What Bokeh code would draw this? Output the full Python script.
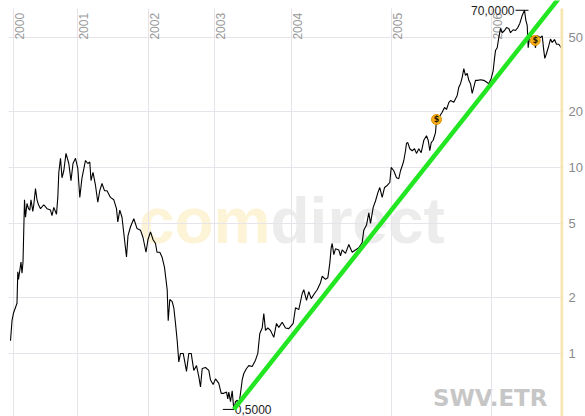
import math
from bokeh.plotting import figure
from bokeh.models import Range1d, FixedTicker, CustomJSTickFormatter
from bokeh.core.properties import value
from bokeh.embed import file_html
from bokeh.resources import INLINE

# ---- data (x = position along the time axis, price in EUR) ----
years = [2000, 2001, 2002, 2003, 2004, 2005, 2006]
year_pos = [5, 69, 140, 206, 283, 383, 483]
y_ticks = [1, 2, 5, 10, 20, 50]

pos = [2.0, 3.5, 5.0, 8.5, 9.3, 10.0, 12.5, 13.5, 14.5, 16.0, 17.0, 18.5, 20.0, 21.3, 22.5, 24.3,
       25.3, 27.0, 28.5, 30.0, 32.0, 35.3, 38.5, 42.0, 43.5, 45.3, 48.0, 49.3, 50.3, 52.0, 53.5,
       55.3, 57.5, 60.3, 62.5, 64.5, 67.0, 69.3, 71.3, 73.5, 77.0, 79.3, 81.3, 82.5, 84.5, 87.0,
       89.3, 91.3, 93.5, 96.0, 98.5, 102.0, 105.3, 108.0, 109.3, 111.3, 113.5, 116.0, 118.0,
       119.5, 122.0, 125.3, 128.5, 132.0, 134.5, 137.5, 139.5, 142.0, 144.5, 147.0, 148.5, 151.3,
       153.5, 156.0, 158.7, 159.7, 161.3, 163.7, 165.3, 167.0, 168.7, 170.3, 172.0, 174.7, 176.3,
       178.0, 180.3, 182.7, 185.3, 188.0, 190.3, 192.0, 193.7, 197.0, 200.3, 202.0, 204.7, 207.0,
       210.3, 212.7, 215.3, 218.0, 219.3, 220.3, 222.0, 223.7, 225.3, 227.0, 228.7, 230.3, 232.0,
       233.7, 235.3, 238.0, 240.3, 243.7, 247.0, 249.3, 251.3, 253.7, 255.3, 257.0, 259.3, 262.0,
       265.3, 268.0, 270.3, 273.7, 277.0, 280.3, 284.7, 287.0, 290.3, 293.7, 295.3, 298.0, 300.3,
       302.7, 306.0, 308.7, 312.0, 313.7, 317.0, 319.3, 321.3, 322.7, 323.7, 325.3, 327.0, 330.3,
       332.0, 333.7, 337.0, 340.3, 343.7, 347.0, 350.3, 353.7, 355.3, 358.0, 360.3, 362.0, 364.7,
       367.0, 369.3, 371.3, 373.7, 376.0, 378.7, 381.3, 382.7, 385.3, 388.0, 390.3, 392.0, 394.0,
       395.3, 397.0, 398.0, 399.3, 401.3, 403.7, 406.0, 408.0, 410.3, 412.7, 415.3, 418.0, 419.7,
       421.3, 422.7, 424.7, 427.0, 428.0, 430.3, 433.7, 436.0, 438.0, 440.3, 442.0, 445.3, 448.7,
       450.3, 452.0, 453.7, 455.3, 457.0, 458.7, 460.3, 462.0, 463.7, 465.3, 467.0, 469.3, 472.0,
       475.3, 478.0, 480.3, 482.7, 484.7, 486.0, 487.0, 488.7, 490.3, 492.0, 493.7, 496.0, 498.0,
       500.3, 502.0, 504.7, 507.0, 509.3, 511.3, 513.7, 516.0, 517.3, 518.7, 519.7, 521.0, 522.7,
       524.7, 527.0, 528.7, 532.0, 533.7, 535.3, 536.3, 538.0, 539.7, 542.0, 543.7, 546.0, 548.0,
       550.3, 552.7]
price = [1.17, 1.50, 1.65, 1.86, 2.75, 2.50, 3.10, 2.70, 3.10, 6.70, 5.40, 6.40, 6.0, 5.90, 6.70, 5.80,
         6.30, 7.70, 6.70, 6.3, 6.00, 6.30, 6.00, 5.90, 5.50, 6.10, 5.60, 6.90, 9.40, 11.2, 8.80,
         9.60, 11.9, 10.5, 8.50, 10.5, 11.2, 9.90, 6.90, 8.80, 10.9, 10.5, 10.7, 8.50, 9.40, 8.00,
         6.50, 7.50, 8.20, 7.50, 7.50, 6.90, 6.70, 6.00, 5.10, 5.90, 5.40, 4.10, 3.30,
         4.30, 4.80, 5.30, 4.70, 4.60, 4.20, 3.50, 4.10, 4.50, 4.10, 3.90, 3.50, 3.50,
         3.30, 2.90, 2.20, 1.50, 1.95, 1.90, 1.76, 1.45, 1.17, 0.90, 1.00, 1.00, 0.90,
         0.80, 1.00, 1.00, 0.81, 0.86, 0.75, 0.66, 0.83, 0.84, 0.81, 0.72, 0.68, 0.73,
         0.69, 0.61, 0.61, 0.62, 0.57, 0.62, 0.55, 0.63, 0.50, 0.55, 0.56, 0.53, 0.61,
         0.72, 0.78, 0.83, 0.86, 0.85, 0.92, 1.00, 1.28, 1.37, 1.64, 1.33, 1.37, 1.33,
         1.22, 1.45, 1.38, 1.47, 1.37, 1.36, 1.45, 1.76, 1.72, 2.10, 2.20, 1.93, 2.15,
         1.97, 2.10, 2.20, 2.40, 2.60, 2.50, 2.55, 3.05, 3.70, 3.90, 3.40, 3.65, 3.60,
         3.35, 3.60, 3.45, 3.85, 3.50, 3.60, 3.70, 3.95, 4.60, 4.90, 5.70, 5.00, 6.10,
         6.60, 7.30, 7.80, 6.90, 7.80, 8.00, 8.30, 10.0, 9.60, 8.80, 8.70, 9.60, 10.3,
         10.9, 12.3, 13.5, 13.6, 12.6, 12.3, 12.6, 11.9, 12.6, 12.0, 14.0, 14.8, 14.0,
         12.3, 13.6, 14.0, 15.4, 17.9, 18.6, 19.8, 21.0, 20.5, 22.3, 22.9, 22.4, 24.4,
         27.0, 28.2, 30.5, 34.0, 31.3, 32.0, 29.4, 28.2, 25.0, 27.0, 29.4, 29.4, 29.6,
         29.4, 28.8, 28.2, 30.1, 33.2, 38.6, 42.5, 44.0, 49.9, 55.9, 53.0, 54.5, 56.5,
         55.9, 53.0, 55.0, 54.5, 56.5, 59.5, 65.6, 70.0, 62.0, 58.0, 44.0, 49.9, 51.0,
         49.9, 44.0, 51.0, 49.9, 51.0, 42.5, 38.6, 41.0, 44.0, 49.0, 47.0, 48.7, 46.0,
         46.0, 44.0]

trend_x = [225.3, 565.0]
trend_y = [0.5, 102.0]

div_x = [428.0, 526.7]
div_y = [18.1, 48.2]

symbol = "SWV.ETR"

X_END = 555
Y_TOP = 79.0      # value at the very top edge of the chart area
Y_GRID_TOP = 71.6 # where the grid / band start
Y_BOT = 0.458

p = figure(width=585, height=416, output_backend="svg", toolbar_location=None,
           x_axis_type=None, y_axis_type="log", y_axis_location="right",
           x_range=Range1d(0, X_END), y_range=Range1d(Y_BOT, Y_TOP),
           min_border_left=8, min_border_right=0, min_border_top=0, min_border_bottom=0)
p.outline_line_color = None
p.background_fill_color = "white"
p.border_fill_color = "white"

# right axis
ax = p.yaxis[0]
ax.ticker = FixedTicker(ticks=y_ticks)
ax.formatter = CustomJSTickFormatter(code="return tick.toString();")
ax.axis_line_color = None
ax.major_tick_line_color = None
ax.minor_tick_line_color = None
ax.major_tick_out = 0
ax.major_tick_in = 0
ax.minor_tick_out = 0
ax.minor_tick_in = 0
ax.major_label_standoff = 5
ax.axis_label_standoff = 0
ax.major_label_text_font = "Liberation Sans"
ax.major_label_text_font_size = "13px"
ax.major_label_text_color = "#8a8a8a"

grid_col = "#e6e3ea"
p.ygrid.ticker = FixedTicker(ticks=y_ticks)
p.ygrid.grid_line_color = grid_col
p.ygrid.minor_grid_line_color = None

# vertical year grid lines
vg = p.segment(x0=year_pos, y0=[Y_BOT] * len(year_pos), x1=year_pos, y1=[Y_GRID_TOP] * len(year_pos),
               line_color=grid_col, line_width=1)
vg.level = "underlay"

# watermark
split_x = 262
wm_y = 5.13
r = p.text(x=[split_x], y=[wm_y], text=["com"], text_align="right", text_baseline="middle",
           text_font=value("Liberation Sans"), text_font_style="bold", text_font_size="64px",
           text_color="#fdf3d6")
r.level = "image"
r = p.text(x=[split_x], y=[wm_y], text=["direct"], text_align="left", text_baseline="middle",
           text_font=value("Liberation Sans"), text_font_style="bold", text_font_size="64px",
           text_color="#ececec")
r.level = "image"
r = p.text(x=[539], y=[0.49], text=[symbol], text_align="right", text_baseline="bottom",
           text_font=value("DejaVu Sans"), text_font_style="bold", text_font_size="23px",
           text_color="#c6c6c6")
r.level = "image"

# year labels (rotated, inside plot)
label_y = 48.7
p.text(x=[x + 1 for x in year_pos], y=[label_y] * len(years), text=[str(y) for y in years],
       angle=math.pi / 2, text_align="left", text_baseline="top",
       text_font=value("Liberation Sans"), text_font_size="12px", text_color="#9a9a9a")

# price line
p.line(pos, price, line_color="black", line_width=1.1)

# min / max markers
i_min = min(range(len(price)), key=lambda i: price[i])
i_max = max(range(len(price)), key=lambda i: price[i])
fmt = lambda v: f"{v:.4f}".replace(".", ",")
p.segment(x0=[pos[i_min] - 11, pos[i_max] - 9], y0=[price[i_min], price[i_max]],
          x1=[pos[i_min], pos[i_max] + 4], y1=[price[i_min], price[i_max]],
          line_color="black", line_width=1)
p.text(x=[pos[i_min] + 1], y=[price[i_min]], text=[fmt(price[i_min])], text_align="left",
       text_baseline="middle", text_font=value("Liberation Sans"), text_font_size="12px",
       text_color="#222222")
p.text(x=[pos[i_max] - 10], y=[price[i_max]], text=[fmt(price[i_max])], text_align="right",
       text_baseline="middle", text_font=value("Liberation Sans"), text_font_size="12px",
       text_color="#222222")

# trend line
p.line(trend_x, trend_y, line_color="#22e622", line_width=4.5)

# dividend markers
p.scatter(div_x, div_y, marker="circle", size=10, fill_color="#f5b01a", line_color="#e09000")
p.text(x=div_x, y=div_y, text=["$"] * len(div_x), text_align="center", text_baseline="middle",
       text_font=value("DejaVu Sans"), text_font_style="bold", text_font_size="8px",
       text_color="#2a1a00")

# right-edge band
p.segment(x0=[X_END - 1.5], y0=[Y_BOT], x1=[X_END - 1.5], y1=[Y_GRID_TOP],
          line_color="#f8e6b2", line_width=3)

open("out.html", "w").write(file_html(p, INLINE))
